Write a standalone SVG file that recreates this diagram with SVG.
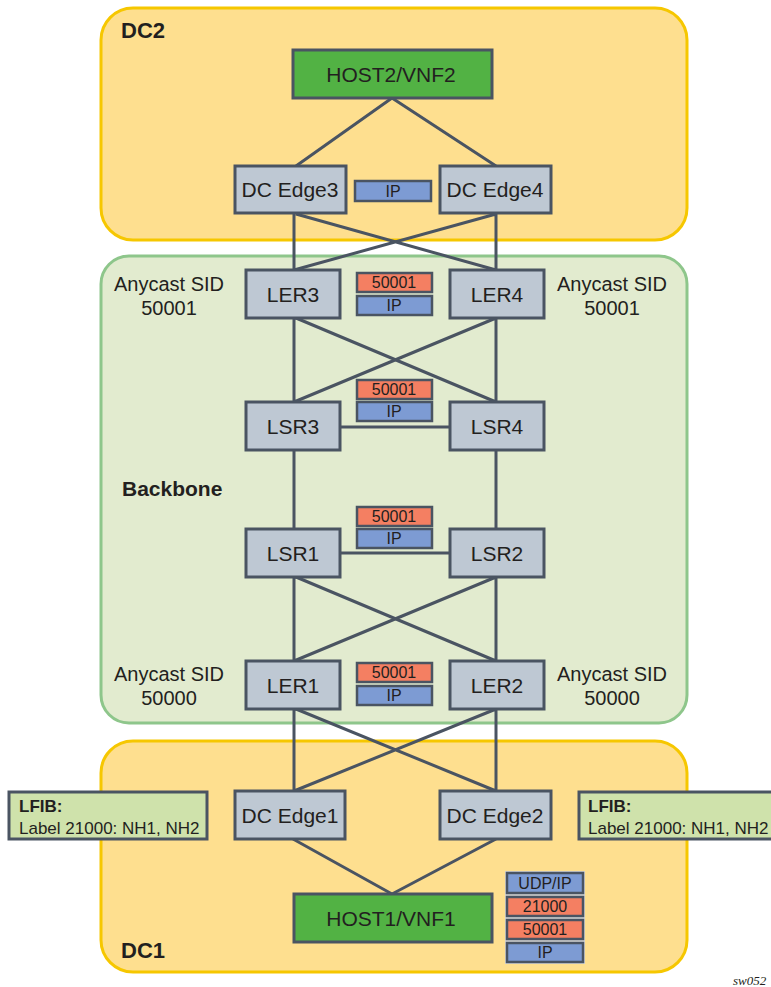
<svg xmlns="http://www.w3.org/2000/svg" width="771" height="987" viewBox="0 0 771 987">
<style>
.dc{fill:#FEDF8F;stroke:#F6C700;stroke-width:3}
.bb{fill:#E2EBCF;stroke:#8EC68B;stroke-width:3}
.nd{fill:#BEC8D3;stroke:#4A5462;stroke-width:3}
.host{fill:#52B244;stroke:#4A5462;stroke-width:3}
.lf{fill:#CFE2AB;stroke:#4A5462;stroke-width:3}
.or{fill:#F47F62;stroke:#4A5462;stroke-width:2.5}
.bl{fill:#7D9BD3;stroke:#4A5462;stroke-width:2.5}
.ln{stroke:#4A5462;stroke-width:3;fill:none}
text{font-family:"Liberation Sans",Arial,sans-serif;fill:#231F20}
.t{font-size:21px;text-anchor:middle}
.s{font-size:16px;text-anchor:middle}
.a{font-size:20px;text-anchor:middle}
.b{font-size:22px;font-weight:bold}
.l{font-size:17px}
</style>
<g id="dc2"><rect class="dc" x="101" y="8" width="586" height="232" rx="32"/><text class="b" x="121" y="38">DC2</text></g>
<g id="backbone"><rect class="bb" x="101" y="256" width="586" height="467" rx="28"/><text class="b" x="122" y="496" style="font-size:21px">Backbone</text></g>
<g id="dc1"><rect class="dc" x="101" y="741" width="586" height="231" rx="32"/><text class="b" x="121" y="958">DC1</text></g>
<g id="connectors">
<path class="ln" d="M392 98L296 166M392 98L496 166"/>
<path class="ln" d="M294 214V270M496 214V270M296 214L496 270M496 214L294 270"/>
<path class="ln" d="M294 318V402M496 318V402M296 318L496 402M496 318L294 402"/>
<path class="ln" d="M340 427H450"/>
<path class="ln" d="M294 450V529M496 450V529"/>
<path class="ln" d="M340 553H450"/>
<path class="ln" d="M294 577V661M496 577V661M296 577L496 661M496 577L294 661"/>
<path class="ln" d="M294 709V791M496 709V791M296 709L496 791M496 709L294 791"/>
<path class="ln" d="M293 839L392 894M496 839L392 894"/>
</g>
<g id="host2"><rect class="host" x="293" y="50" width="199" height="48"/><text class="t" x="391" y="82">HOST2/VNF2</text></g>
<g id="dcedge3"><rect class="nd" x="235" y="166" width="111" height="47"/><text class="t" x="290" y="197">DC Edge3</text></g>
<g id="dcedge4"><rect class="nd" x="440" y="166" width="111" height="47"/><text class="t" x="495" y="197">DC Edge4</text></g>
<g id="lbl-dc2"><rect class="bl" x="355" y="181" width="76" height="20"/><text class="s" x="393" y="197">IP</text></g>
<g id="ler3"><rect class="nd" x="246" y="270" width="94" height="48"/><text class="t" x="293" y="302">LER3</text></g>
<g id="ler4"><rect class="nd" x="450" y="270" width="94" height="48"/><text class="t" x="497" y="302">LER4</text></g>
<g id="anycast-top-left"><text class="a" x="169" y="291">Anycast SID</text><text class="a" x="169" y="315">50001</text></g>
<g id="anycast-top-right"><text class="a" x="612" y="291">Anycast SID</text><text class="a" x="612" y="315">50001</text></g>
<g id="lbl-ler34"><rect class="or" x="357" y="273" width="75" height="19"/><text class="s" x="394" y="288">50001</text><rect class="bl" x="357" y="296" width="75" height="19"/><text class="s" x="394" y="311">IP</text></g>
<g id="lsr3"><rect class="nd" x="246" y="402" width="94" height="48"/><text class="t" x="293" y="434">LSR3</text></g>
<g id="lsr4"><rect class="nd" x="450" y="402" width="94" height="48"/><text class="t" x="497" y="434">LSR4</text></g>
<g id="lbl-lsr34"><rect class="or" x="357" y="380" width="75" height="19"/><text class="s" x="394" y="395">50001</text><rect class="bl" x="357" y="402" width="75" height="19"/><text class="s" x="394" y="417">IP</text></g>
<g id="lsr1"><rect class="nd" x="246" y="529" width="94" height="48"/><text class="t" x="293" y="561">LSR1</text></g>
<g id="lsr2"><rect class="nd" x="450" y="529" width="94" height="48"/><text class="t" x="497" y="561">LSR2</text></g>
<g id="lbl-lsr12"><rect class="or" x="357" y="507" width="75" height="19"/><text class="s" x="394" y="522">50001</text><rect class="bl" x="357" y="529" width="75" height="19"/><text class="s" x="394" y="544">IP</text></g>
<g id="ler1"><rect class="nd" x="246" y="661" width="94" height="48"/><text class="t" x="293" y="693">LER1</text></g>
<g id="ler2"><rect class="nd" x="450" y="661" width="94" height="48"/><text class="t" x="497" y="693">LER2</text></g>
<g id="anycast-bot-left"><text class="a" x="169" y="681">Anycast SID</text><text class="a" x="169" y="705">50000</text></g>
<g id="anycast-bot-right"><text class="a" x="612" y="681">Anycast SID</text><text class="a" x="612" y="705">50000</text></g>
<g id="lbl-ler12"><rect class="or" x="357" y="663" width="75" height="19"/><text class="s" x="394" y="678">50001</text><rect class="bl" x="357" y="686" width="75" height="19"/><text class="s" x="394" y="701">IP</text></g>
<g id="lfib-left"><rect class="lf" x="9" y="792" width="198" height="47"/><text class="l" x="19" y="812" style="font-weight:bold">LFIB:</text><text class="l" x="19" y="834">Label 21000: NH1, NH2</text></g>
<g id="dcedge1"><rect class="nd" x="235" y="791" width="110" height="48"/><text class="t" x="290" y="823">DC Edge1</text></g>
<g id="dcedge2"><rect class="nd" x="440" y="791" width="111" height="48"/><text class="t" x="495" y="823">DC Edge2</text></g>
<g id="lfib-right"><rect class="lf" x="579" y="792" width="200" height="47"/><text class="l" x="588" y="812" style="font-weight:bold">LFIB:</text><text class="l" x="588" y="834">Label 21000: NH1, NH2</text></g>
<g id="host1"><rect class="host" x="294" y="894" width="198" height="48"/><text class="t" x="391" y="926">HOST1/VNF1</text></g>
<g id="lbl-host1">
<rect x="505" y="871" width="80" height="93" fill="#D6D6D6"/>
<rect class="bl" x="507" y="873" width="76" height="20"/><text class="s" x="545" y="889">UDP/IP</text>
<rect class="or" x="507" y="897" width="76" height="19"/><text class="s" x="545" y="912">21000</text>
<rect class="or" x="507" y="920" width="76" height="19"/><text class="s" x="545" y="935">50001</text>
<rect class="bl" x="507" y="943" width="76" height="19"/><text class="s" x="545" y="958">IP</text>
</g>
<text x="733" y="985" style="font-family:'Liberation Serif',serif;font-style:italic;font-size:13px">sw052</text>
</svg>
